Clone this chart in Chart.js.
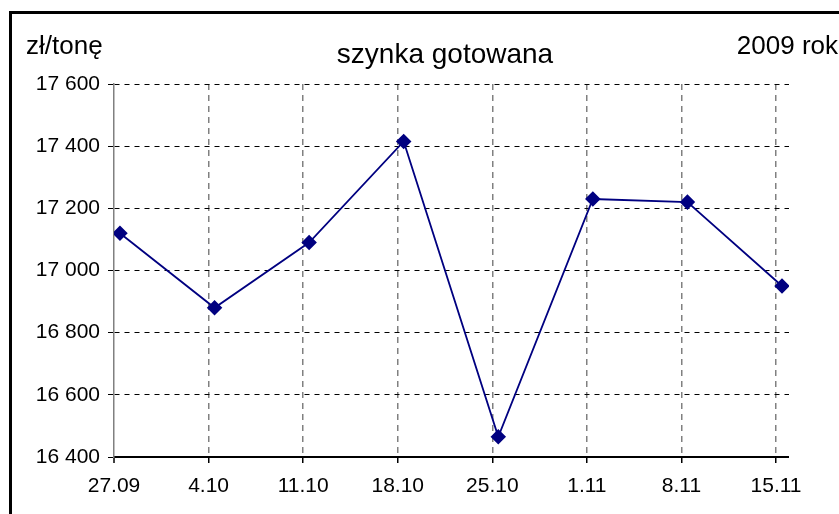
<!DOCTYPE html>
<html lang="pl">

<head>
    <meta charset="UTF-8">
    <title>szynka gotowana</title>
    <script src="https://cdn.jsdelivr.net/npm/chart.js"></script>
    <style>
        body { margin: 0; background: #fff; }
        .wrap { position: relative; width: 839px; height: 514px; overflow: hidden; }
        .ramka { position: absolute; left: 9px; top: 11px; width: 900px; height: 600px; border: 3px solid #000; }
        canvas { position: absolute; left: 0; top: 0; }
    </style>
</head>

<body>
    <div class="wrap">
        <div class="ramka"></div>
        <canvas id="wykres" width="839" height="514"></canvas>
    </div>
</body>

</html>

<script>
    // dane
    var tygodnie = ['27.09', '4.10', '11.10', '18.10', '25.10', '1.11', '8.11', '15.11'];
    var ceny = [17120, 16880, 17090, 17415, 16465, 17230, 17220, 16950];
    var yMin = 16400;
    var yMax = 17600;
    var yKrok = 200;

    var tytul = 'szynka gotowana';
    var jednostka = 'zł/tonę';
    var rok = '2009 rok';

    var czcionka = '"Liberation Sans", Arial, sans-serif';
    var xKoniec = 7.137;    // os x konczy sie troche za ostatnim tygodniem
    var przesuniecie = 0.063; // punkty lekko na prawo od linii siatki

    function formatuj(v) {
        return String(v).replace(/\B(?=(\d{3})+(?!\d))/g, ' ');
    }

    // tytul i napisy w rogach (tytul nie jest wycentrowany nad obszarem wykresu)
    var napisy = {
        id: 'napisy',
        afterDraw: function (chart) {
            var ctx = chart.ctx;
            ctx.save();
            ctx.fillStyle = '#000';
            ctx.textBaseline = 'alphabetic';
            ctx.font = '26px ' + czcionka;
            ctx.textAlign = 'left';
            ctx.fillText(jednostka, 26, 54);
            ctx.textAlign = 'right';
            ctx.fillText(rok, 838, 54);
            ctx.font = '28px ' + czcionka;
            ctx.textAlign = 'center';
            ctx.fillText(tytul, 445, 63);
            ctx.restore();
        }
    };

    var dane = {
        type: 'line',
        data: {
            datasets: [{
                label: tytul,
                data: ceny.map(function (c, i) { return { x: i, y: c }; }),
                xAxisID: 'xPunkty',
                borderColor: '#000080',
                backgroundColor: '#000080',
                borderWidth: 1.8,
                pointStyle: 'rectRot',
                pointRadius: 6.5,
                pointHoverRadius: 6.5,
                tension: 0
            }]
        },
        options: {
            responsive: false,
            devicePixelRatio: 1,
            animation: false,
            layout: { padding: { left: 0, right: 50, top: 84, bottom: 0 } },
            plugins: {
                legend: { display: false },
                tooltip: { enabled: false },
                title: { display: false }
            },
            scales: {
                x: {
                    type: 'linear',
                    position: 'bottom',
                    min: 0,
                    max: xKoniec,
                    afterBuildTicks: function (s) {
                        s.ticks = tygodnie.map(function (t, i) { return { value: i }; });
                    },
                    afterFit: function (s) { s.height = 57; },
                    ticks: {
                        color: '#000',
                        font: { family: czcionka, size: 21 },
                        padding: 11,
                        maxRotation: 0,
                        autoSkip: false,
                        callback: function (v) { return tygodnie[v]; }
                    },
                    grid: {
                        color: '#808080',
                        lineWidth: function (c) { return c.index === 0 ? 0 : 1.5; },
                        tickColor: '#000',
                        tickWidth: 1.5,
                        tickLength: 6,
                        tickBorderDash: []
                    },
                    border: { display: true, color: '#000', width: 2, dash: [6, 5] }
                },
                xPunkty: {
                    type: 'linear',
                    position: 'bottom',
                    display: false,
                    min: -przesuniecie,
                    max: xKoniec - przesuniecie
                },
                y: {
                    min: yMin,
                    max: yMax,
                    afterFit: function (s) { s.width = 114; },
                    ticks: {
                        stepSize: yKrok,
                        color: '#000',
                        font: { family: czcionka, size: 21 },
                        padding: 8,
                        callback: function (v) { return formatuj(v); }
                    },
                    grid: {
                        color: '#000',
                        lineWidth: 1,
                        tickColor: '#000',
                        tickLength: 6,
                        tickBorderDash: []
                    },
                    border: { display: true, color: '#808080', width: 1.5, dash: [5, 5] }
                }
            }
        },
        plugins: [napisy]
    };

    var ctx = document.getElementById('wykres');
    var wykres = new Chart(ctx, dane);
</script>
